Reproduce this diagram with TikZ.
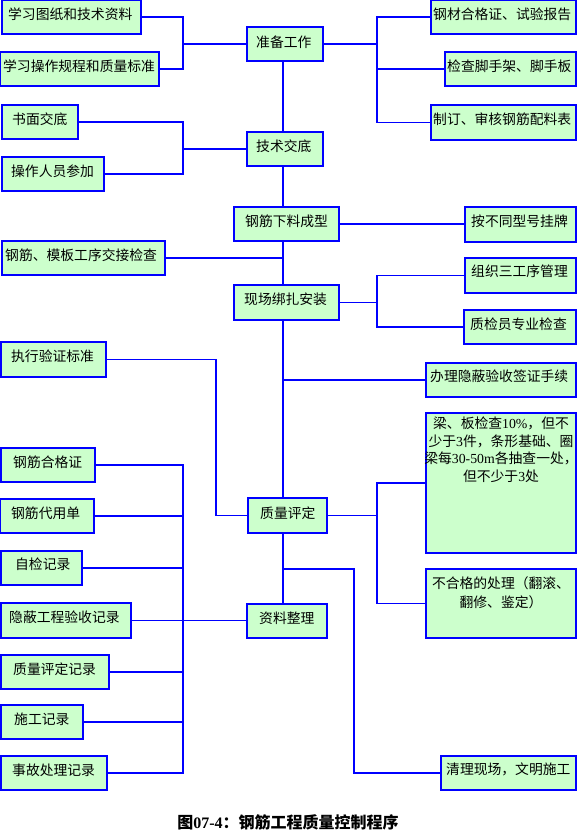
\documentclass[tikz,border=0pt]{standalone}
\usepackage{fontspec}
\setmainfont{Noto Sans CJK SC}
\newfontfamily\lat{Liberation Serif}
\definecolor{boxgreen}{HTML}{CCFFCC}
\definecolor{lnblue}{HTML}{0000FF}
\newcommand\bx[8]{%
 \node[box, anchor=north west, minimum width={(#4-#2)*1pt}, minimum height={(#5-#3)*1pt}] (#1) at (#2,#3) {};
 \node[txt, anchor=west] (#1-t) at (#6,#7) {#8};}
\begin{document}
\begin{tikzpicture}[x=1pt,y=-1pt,
  box/.style={draw=lnblue, fill=boxgreen, line width=1.3pt, inner sep=0pt, outer sep=0pt},
  txt/.style={inner sep=0pt, font=\fontsize{13.8}{17.5}\selectfont},
  ln/.style={draw=lnblue, line width=1.3pt}]
\useasboundingbox (0,0) rectangle (577,840);
\coordinate (tk) at (283,0);
\coordinate (lv) at (183,0);
% left top
\bx{a1}{2}{0}{141}{34}{8}{14}{学习图纸和技术资料}
\bx{a2}{0}{52}{159}{86}{3}{66}{学习操作规程和质量标准}
\bx{prep}{247}{27}{323}{61}{256}{42}{准备工作}
\bx{r1}{431}{0}{576}{34}{433}{14}{钢材合格证、试验报告}
\bx{r2}{445}{52}{576}{86}{447}{66}{检查脚手架、脚手板}
\bx{r3}{431}{105}{576}{140}{433}{119}{制订、审核钢筋配料表}
\bx{b1}{2}{105}{78}{139}{12}{119}{书面交底}
\bx{b2}{2}{157}{104}{191}{11}{171}{操作人员参加}
\bx{tech}{247}{132}{323}{166}{256}{146}{技术交底}
\bx{cut}{234}{207}{339}{241}{245}{221}{钢筋下料成型}
\bx{tag}{465}{207}{576}{242}{471}{221}{按不同型号挂牌}
\bx{hand}{2}{241}{165}{275}{5}{255}{钢筋、模板工序交接检查}
\bx{bind}{234}{285}{339}{320}{244}{299}{现场绑扎安装}
\bx{g1}{465}{258}{576}{293}{471}{271}{组织三工序管理}
\bx{g2}{464}{310}{576}{344}{470}{324}{质检员专业检查}
\bx{exe}{1}{342}{106}{377}{11}{356}{执行验证标准}
\bx{hide}{426}{363}{576}{397}{430}{376}{办理隐蔽验收签证手续}
\node[box, anchor=north west, minimum width=150pt, minimum height=140pt] (big) at (426,413) {};
\node[txt, align=center, anchor=north] (big-t) at (501,417) {梁、板检查{\lat 10\%}，但不\\少于{\lat 3}件，条形基础、圈\\梁每{\lat 30-50m}各抽查一处，\\但不少于{\lat 3}处};
\node[box, anchor=north west, minimum width=150pt, minimum height=69pt] (bad) at (426,569) {};
\node[txt, align=center, anchor=north, font=\fontsize{13.8}{19}\selectfont] (bad-t) at (501,576) {不合格的处理（翻滚、\\翻修、鉴定）};
\bx{qe}{248}{498}{327}{533}{260}{513}{质量评定}
\bx{doc}{247}{604}{327}{638}{259}{618}{资料整理}
\bx{d1}{1}{448}{95}{482}{13}{462}{钢筋合格证}
\bx{d2}{0}{499}{94}{533}{11}{513}{钢筋代用单}
\bx{d3}{1}{551}{82}{585}{15}{564}{自检记录}
\bx{d4}{1}{603}{131}{638}{9}{617}{隐蔽工程验收记录}
\bx{d5}{1}{655}{109}{689}{13}{669}{质量评定记录}
\bx{d6}{1}{705}{83}{739}{14}{719}{施工记录}
\bx{d7}{1}{756}{107}{790}{12}{770}{事故处理记录}
\bx{clean}{441}{756}{576}{790}{446}{769}{清理现场，文明施工}
% connectors
\coordinate (j1) at (183,44);
\draw[ln] (a1.east) -| (j1) -- (prep.west);
\draw[ln] (a2.east) -| (j1);
\coordinate (j3) at (377,44);
\draw[ln] (prep.east) -- (j3);
\draw[ln] (r1.west) -| (j3);
\draw[ln] (r3.west) -| (j3);
\draw[ln] (r2.west) -- (r2.west -| j3);
\coordinate (j2) at (183,149);
\draw[ln] (b1.east) -| (j2) -- (tech.west);
\draw[ln] (b2.east) -| (j2);
\draw[ln] (prep.south -| tk) -- (tech.north -| tk);
\draw[ln] (tech.south -| tk) -- (cut.north -| tk);
\draw[ln] (cut.south -| tk) -- (bind.north -| tk);
\draw[ln] (bind.south -| tk) -- (qe.north -| tk);
\draw[ln] (qe.south -| tk) -- (doc.north -| tk);
\draw[ln] (cut.east) -- (cut.east -| tag.west);
\draw[ln] (hand.east) -- (hand.east -| tk);
\coordinate (j4) at (377,302.5);
\draw[ln] (bind.east) -- (j4);
\draw[ln] (g1.west) -| (j4);
\draw[ln] (g2.west) -| (j4);
\draw[ln] (hide.west) -- (hide.west -| tk);
\coordinate (j5) at (216,515.5);
\draw[ln] (exe.east) -| (j5) -- (qe.west);
\coordinate (j6) at (377,515.5);
\draw[ln] (qe.east) -- (j6);
\draw[ln] (big.west) -| (j6);
\draw[ln] (bad.west) -| (j6);
\coordinate (j7) at (354,569);
\draw[ln] (clean.west) -| (j7) -- (j7 -| tk);
\draw[ln] (d1.east) -- (d1.east -| lv) -- (d7.east -| lv) -- (d7.east);
\draw[ln] (d2.east) -- (d2.east -| lv);
\draw[ln] (d3.east) -- (d3.east -| lv);
\draw[ln] (d5.east) -- (d5.east -| lv);
\draw[ln] (d6.east) -- (d6.east -| lv);
\draw[ln] (d4.east) -- (d4.east -| doc.west);
% caption
\node[inner sep=0pt, font=\bfseries\fontsize{16}{16}\selectfont] (cap) at (288,822) {图{\lat 07-4}：钢筋工程质量控制程序};
\end{tikzpicture}
\end{document}
